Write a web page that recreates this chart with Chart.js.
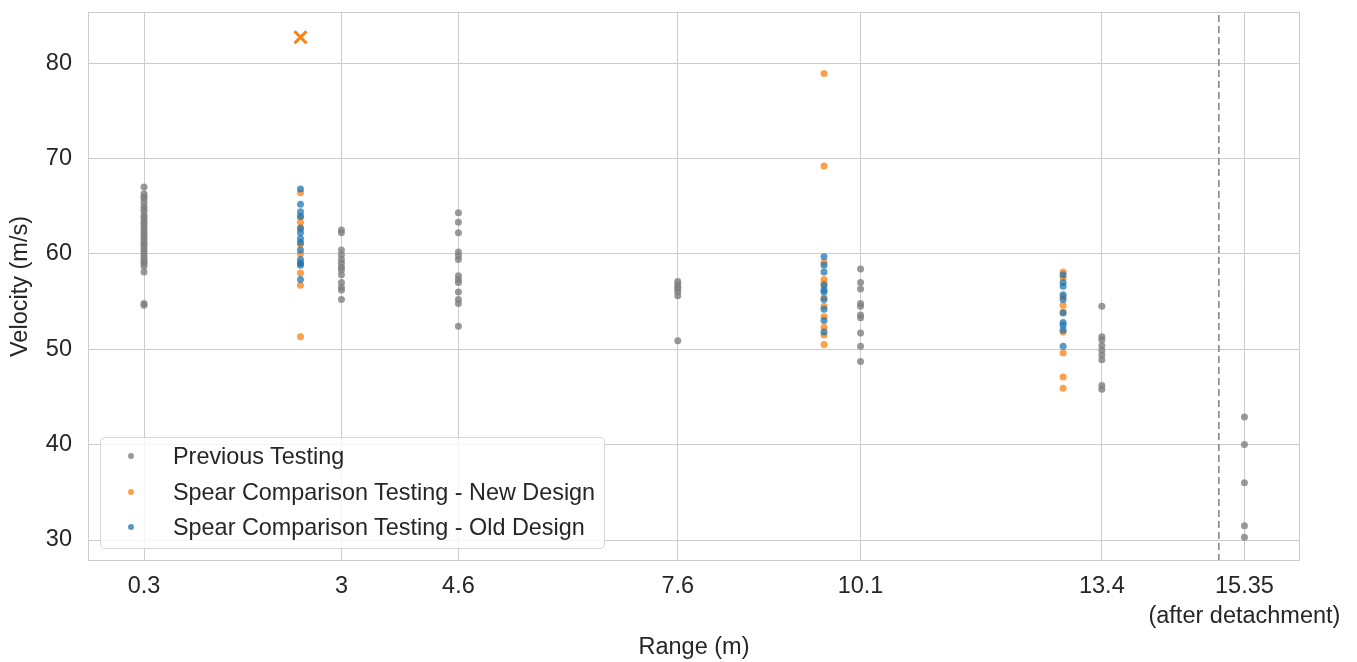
<!DOCTYPE html>
<html lang="en">
<head>
  <meta charset="UTF-8" />
  <title>Velocity vs Range</title>
  <style>
    body {
      margin: 0;
      padding: 0;
      background: #fff;
      font-family: "Liberation Sans", Arial, sans-serif;
    }
    .wrap {
      position: relative;
      width: 1357px;
      height: 662px;
    }
    .legend {
      position: absolute;
      left: 100px;
      top: 437px;
      width: 505px;
      height: 112px;
      border: 1px solid #d5d5d5;
      border-radius: 5px;
      background: rgba(255,255,255,0.8);
      box-sizing: border-box;
      font-size: 23.4px;
      color: #262626;
    }
    .legend .row {
      position: absolute;
      left: 0;
      height: 30px;
      line-height: 30px;
      white-space: nowrap;
    }
    .legend .dot {
      position: absolute;
      left: 27px;
      top: 12px;
      width: 6px;
      height: 6px;
      border-radius: 50%;
    }
    .legend .txt {
      position: absolute;
      left: 72px;
    }
  </style>
</head>
<body>
  <div class="wrap">
    <canvas id="grafico" width="1357" height="662"></canvas>
    <div class="legend" id="leyenda"></div>
  </div>

  <script src="https://cdn.jsdelivr.net/npm/chart.js"></script>
  <script>
    // ranges (m) and velocities (m/s)
    const xTicks = [0.3, 3, 4.6, 7.6, 10.1, 13.4, 15.35];
    const yTicks = [30, 40, 50, 60, 70, 80];

    const prevRanges = [0.3, 3, 4.6, 7.6, 10.1, 13.4, 15.35];
    const prevVel = [
      [67.0, 66.3, 66.0, 65.8, 65.4, 65.0, 64.7, 64.4, 64.0, 63.8, 63.5, 63.2, 62.9, 62.6, 62.3, 62.0,
       61.8, 61.5, 61.2, 61.0, 60.7, 60.4, 60.1, 59.8, 59.5, 59.2, 59.0, 58.7, 58.1, 54.8, 54.6],
      [62.5, 62.2, 60.4, 59.9, 59.4, 59.0, 58.6, 58.3, 57.8, 57.0, 56.5, 56.2, 55.2],
      [64.3, 63.3, 62.2, 60.2, 59.8, 59.4, 57.7, 57.3, 57.0, 56.0, 55.2, 54.8, 52.4],
      [57.1, 56.8, 56.5, 56.3, 56.0, 55.6, 50.9],
      [58.4, 57.0, 56.3, 54.8, 54.5, 53.6, 53.3, 51.7, 50.3, 48.7],
      [54.5, 51.3, 51.0, 50.4, 49.9, 49.4, 48.9, 46.2, 45.8],
      [42.9, 40.0, 36.0, 31.5, 30.3]
    ];

    const newRanges = [2.44, 9.6, 12.87];
    const newVel = [
      [66.4, 63.9, 63.3, 62.6, 61.0, 60.0, 59.0, 58.0, 56.7, 51.3],
      [78.9, 69.2, 59.1, 57.3, 56.9, 55.4, 54.5, 53.4, 52.3, 51.5, 50.5],
      [58.1, 57.5, 55.5, 54.6, 53.9, 51.8, 49.6, 47.1, 45.9]
    ];

    const oldRanges = [2.44, 9.6, 12.87];
    const oldVel = [
      [66.8, 65.2, 64.4, 63.9, 62.7, 62.2, 61.6, 61.2, 60.4, 59.4, 59.0, 58.8, 57.3],
      [59.7, 58.8, 58.1, 56.7, 56.2, 56.0, 55.2, 54.2, 53.0, 51.8],
      [57.8, 57.0, 56.6, 55.7, 55.2, 53.8, 52.8, 52.5, 52.0, 50.3]
    ];

    const outlierX = [2.44];
    const outlierY = [82.7];

    const detachX = 15;
    const xMin = -0.466, xMax = 16.11;
    const yMin = 27.8, yMax = 85.35;

    const series = [
      { label: 'Previous Testing', color: 'rgba(128,128,128,0.8)' },
      { label: 'Spear Comparison Testing - New Design', color: 'rgba(255,127,14,0.75)' },
      { label: 'Spear Comparison Testing - Old Design', color: 'rgba(31,119,180,0.75)' }
    ];

    function aPuntos(rangos, vel) {
      const pts = [];
      rangos.forEach((r, i) => vel[i].forEach(v => pts.push({ x: r, y: v })));
      return pts;
    }

    const marco = {
      id: 'marco',
      afterDraw(chart) {
        const a = chart.chartArea, c = chart.ctx;
        c.save();
        c.strokeStyle = '#cccccc';
        c.lineWidth = 1;
        c.strokeRect(a.left + 0.5, a.top + 0.5, a.right - a.left - 1, a.bottom - a.top - 1);
        c.restore();
      }
    };

    Chart.defaults.font.family = '"Liberation Sans", Arial, sans-serif';
    Chart.defaults.color = '#262626';

    new Chart(document.getElementById('grafico').getContext('2d'), {
      type: 'scatter',
      data: {
        datasets: [
          {
            label: series[0].label,
            data: aPuntos(prevRanges, prevVel),
            backgroundColor: series[0].color,
            borderWidth: 0,
            pointRadius: 3.5,
            order: 4
          },
          {
            label: series[1].label,
            data: aPuntos(newRanges, newVel),
            backgroundColor: series[1].color,
            borderWidth: 0,
            pointRadius: 3.5,
            order: 3
          },
          {
            label: series[2].label,
            data: aPuntos(oldRanges, oldVel),
            backgroundColor: series[2].color,
            borderWidth: 0,
            pointRadius: 3.5,
            order: 2
          },
          {
            label: 'outlier',
            data: outlierX.map((x, i) => ({ x: x, y: outlierY[i] })),
            pointStyle: 'crossRot',
            pointRadius: 8.5,
            borderWidth: 3,
            borderColor: '#ff7f0e',
            order: 1
          },
          {
            label: 'detach',
            type: 'line',
            data: [{ x: detachX, y: yMin }, { x: detachX, y: yMax }],
            borderColor: '#808080',
            borderWidth: 1.5,
            borderDash: [7, 4],
            pointRadius: 0,
            order: 0
          }
        ]
      },
      options: {
        responsive: false,
        animation: false,
        layout: { padding: { left: 0, right: 57, top: 12, bottom: 0 } },
        plugins: {
          legend: { display: false },
          tooltip: { enabled: false }
        },
        scales: {
          x: {
            type: 'linear',
            min: xMin,
            max: xMax,
            afterBuildTicks: s => { s.ticks = xTicks.map(v => ({ value: v })); },
            afterFit: s => { s.height = 101; s.paddingLeft = 0; s.paddingRight = 0; },
            grid: { color: '#cccccc', drawTicks: false },
            border: { display: false },
            ticks: {
              padding: 11,
              font: { size: 23.5, lineHeight: 1.25 },
              maxRotation: 0,
              autoSkip: false,
              callback: v => v === 15.35 ? ['15.35', '(after detachment)'] : String(v)
            },
            title: {
              display: true,
              text: 'Range (m)',
              font: { size: 23.5 },
              padding: { top: 0, bottom: 0 }
            }
          },
          y: {
            min: yMin,
            max: yMax,
            afterBuildTicks: s => { s.ticks = yTicks.map(v => ({ value: v })); },
            afterFit: s => { s.width = 88; s.paddingTop = 0; s.paddingBottom = 0; },
            grid: { color: '#cccccc', drawTicks: false },
            border: { display: false },
            ticks: {
              padding: 16,
              font: { size: 23.5 }
            },
            title: {
              display: true,
              text: 'Velocity (m/s)',
              font: { size: 23.5 },
              padding: { top: 6, bottom: 0 }
            }
          }
        }
      },
      plugins: [marco]
    });

    const leyenda = document.getElementById('leyenda');
    series.forEach((s, i) => {
      leyenda.innerHTML += `<div class="row" style="top:${3 + i * 35.5}px">
        <span class="dot" style="background:${s.color}"></span>
        <span class="txt">${s.label}</span></div>`;
    });
  </script>
</body>
</html>
